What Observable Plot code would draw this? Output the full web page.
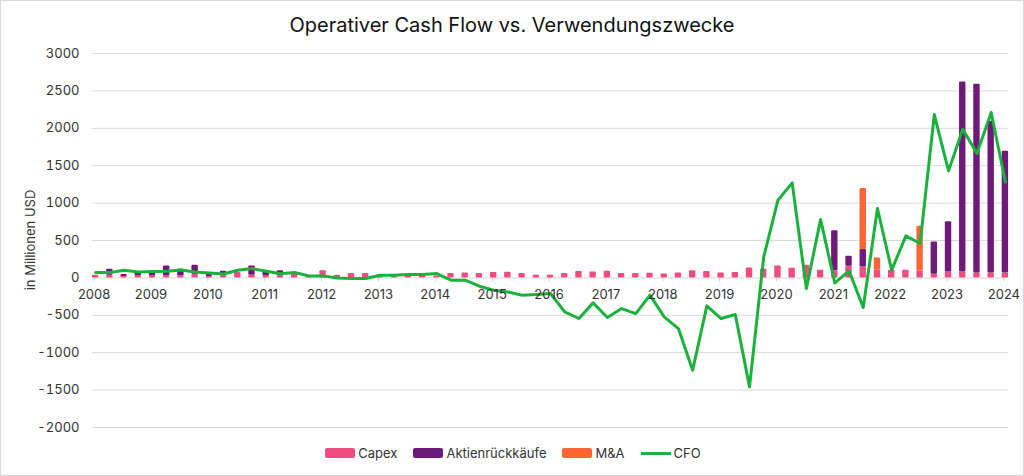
<!DOCTYPE html>
<html>
<head>
<meta charset="utf-8">
<script src="https://cdn.jsdelivr.net/npm/d3@7"></script>
<script src="https://cdn.jsdelivr.net/npm/@observablehq/plot@0.6"></script>
<style>
  html, body { margin: 0; padding: 0; background: #fff; }
  body { width: 1024px; height: 476px; position: relative; overflow: hidden; font-family: Inter, "Noto Sans", sans-serif; color: #333; }
  #frame { position: absolute; left: 0; top: 0; width: 1024px; height: 476px; box-sizing: border-box; border: 1px solid #d9d9d9; pointer-events: none; }
  #title { position: absolute; left: 0; top: 11px; width: 1024px; text-align: center; font-size: 20px; color: #111; line-height: 28px; }
  #chart { position: absolute; left: 0; top: 40px; }
  #ylabel { position: absolute; left: 30px; top: 240px; transform: translate(-50%, -50%) rotate(-90deg); font-size: 13px; white-space: nowrap; color: #333; }
  #legend { position: absolute; left: 0; top: 445px; width: 1024px; display: flex; justify-content: center; align-items: center; font-size: 13px; color: #333; padding-left: 2px; box-sizing: border-box; }
  .item { display: flex; align-items: center; margin: 0 8px; }
  .sw { width: 30px; height: 10px; border-radius: 2px; margin-right: 3px; }
  .ln { width: 30px; height: 3px; margin-right: 3px; }
</style>
</head>
<body>
<div id="title">Operativer Cash Flow vs. Verwendungszwecke</div>
<div id="chart"></div>
<div id="ylabel">in Millionen USD</div>
<div id="legend"></div>
<div id="frame"></div>
<script>
const quarters = [
  "2008 Q1","2008 Q2","2008 Q3","2008 Q4","2009 Q1","2009 Q2","2009 Q3","2009 Q4",
  "2010 Q1","2010 Q2","2010 Q3","2010 Q4","2011 Q1","2011 Q2","2011 Q3","2011 Q4",
  "2012 Q1","2012 Q2","2012 Q3","2012 Q4","2013 Q1","2013 Q2","2013 Q3","2013 Q4",
  "2014 Q1","2014 Q2","2014 Q3","2014 Q4","2015 Q1","2015 Q2","2015 Q3","2015 Q4",
  "2016 Q1","2016 Q2","2016 Q3","2016 Q4","2017 Q1","2017 Q2","2017 Q3","2017 Q4",
  "2018 Q1","2018 Q2","2018 Q3","2018 Q4","2019 Q1","2019 Q2","2019 Q3","2019 Q4",
  "2020 Q1","2020 Q2","2020 Q3","2020 Q4","2021 Q1","2021 Q2","2021 Q3","2021 Q4",
  "2022 Q1","2022 Q2","2022 Q3","2022 Q4","2023 Q1","2023 Q2","2023 Q3","2023 Q4",
  "2024 Q1"
];
const capex = [
  36,36,20,25,25,25,25,49, 20,25,71,36,25,25,58,27,
  94,36,58,58,27,27,27,27, 27,58,67,58,71,76,58,36,
  36,58,85,80,89,58,58,62, 53,67,94,85,67,71,134,116,
  160,129,169,102,94,156,147,102, 102,102,94,49,80,80,67,67,
  67
];
const buybacks = [
  0,80,25,46,46,135,91,120, 25,64,0,124,55,70,0,0,
  0,0,0,0,0,0,0,0, 0,0,0,0,0,0,0,0,
  0,0,0,0,0,0,0,0, 0,0,0,0,0,0,0,0,
  0,0,0,0,535,134,232,0, 0,0,0,432,672,2540,2523,2028,
  1627
];
const mna = [
  0,0,0,0,0,0,0,0, 0,0,0,0,0,0,0,0,
  0,0,0,0,0,0,0,0, 0,0,0,0,0,0,0,0,
  0,0,0,0,0,0,0,0, 0,0,0,0,0,0,0,0,
  0,0,0,0,0,0,816,165, 0,0,597,0,0,0,0,0,
  0
];
const cfo = [
  71,71,102,80,85,89,107,80, 67,53,102,125,89,55,72,27,
  27,0,-9,-9,36,36,45,45, 58,-31,-31,-111,-164,-187,-231,-222,
  -209,-454,-543,-334,-530,-410,-477,-231, -521,-677,-1234,-374,-543,-490,-1457,281,
  1039,1270,-142,780,-67,94,-396,928, 103,562,460,2184,1431,1988,1663,2211,
  1283
];
const years = ["2008","2009","2010","2011","2012","2013","2014","2015","2016","2017","2018","2019","2020","2021","2022","2023","2024"];
const yTicks = [-2000,-1500,-1000,-500,0,500,1000,1500,2000,2500,3000];
const seriesNames = ["Capex","Aktienrückkäufe","M&A"];
const seriesColors = ["#ef4d80","#6d1a79","#ff6432"];
const cfoColor = "#1ab13c";

const seriesValues = [capex, buybacks, mna];
const rows = [];
seriesNames.forEach((name, s) => {
  seriesValues[s].forEach((v, i) => rows.push({q: quarters[i], s: name, v}));
});
const cfoRows = cfo.map((v, i) => ({q: quarters[i], v}));

const chart = Plot.plot({
  width: 1024,
  height: 400,
  marginTop: 13,
  marginBottom: 13,
  marginLeft: 88,
  marginRight: 12,
  style: {fontFamily: "Inter, 'Noto Sans', sans-serif", fontSize: "13px", color: "#333", background: "transparent"},
  x: {domain: quarters, paddingInner: 0.55, paddingOuter: 0.275, round: false, axis: null},
  y: {domain: [-2000, 3000], axis: null},
  color: {domain: seriesNames, range: seriesColors},
  marks: [
    Plot.gridY(yTicks, {stroke: "#d9d9d9", strokeOpacity: 1, insetLeft: 4, insetRight: 4}),
    Plot.axisY(yTicks, {tickSize: 0, tickPadding: 9, label: null, fontSize: 13, fill: "#333", tickFormat: d => String(d)}),
    Plot.ruleX(years, {x: d => d + " Q1", y1: 0, y2: -55, stroke: "#cfcfcf", dx: -1.5}),
    Plot.barY(rows, {x: "q", y: "v", fill: "s", rx: 1}),
    Plot.line(cfoRows, {x: "q", y: "v", stroke: cfoColor, strokeWidth: 3, strokeLinejoin: "round"}),
    Plot.text(years, {x: d => d + " Q1", y: 0, dy: 16.5, dx: -1.5, text: d => d, fontSize: 13, fill: "#333"})
  ]
});
document.getElementById("chart").appendChild(chart);

const legend = document.getElementById("legend");
seriesNames.forEach((name, i) => {
  const it = document.createElement("div");
  it.className = "item";
  it.innerHTML = `<div class="sw" style="background:${seriesColors[i]}"></div><span>${name}</span>`;
  legend.appendChild(it);
});
const it = document.createElement("div");
it.className = "item";
it.innerHTML = `<div class="ln" style="background:${cfoColor}"></div><span>CFO</span>`;
legend.appendChild(it);
</script>
</body>
</html>
